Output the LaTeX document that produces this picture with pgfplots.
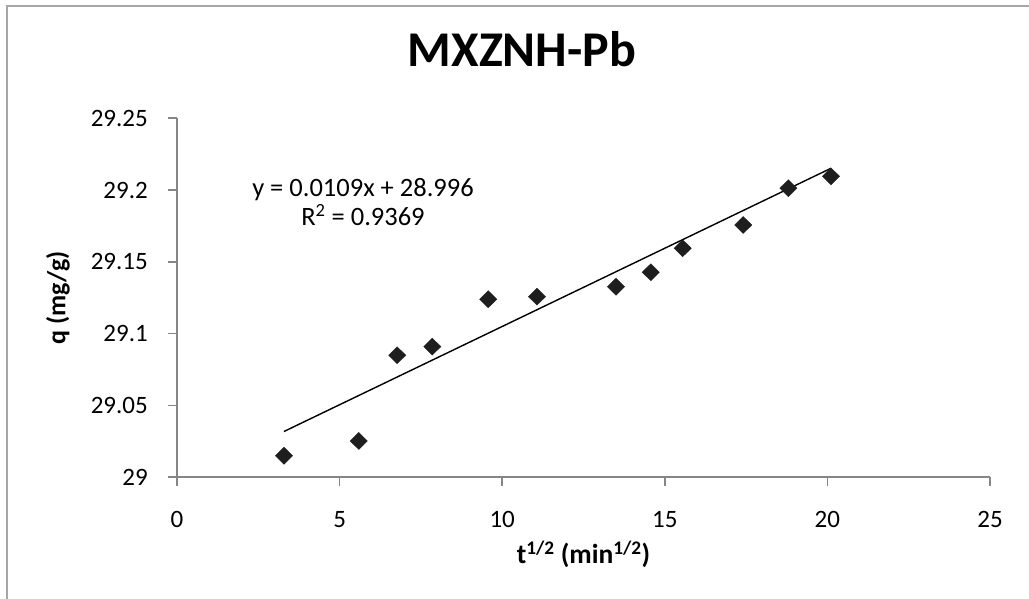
\documentclass[border=0pt]{standalone}
\usepackage{fontspec}
\setmainfont{Carlito}
\usepackage{pgfplots}
\pgfplotsset{compat=1.18}
\definecolor{axgray}{HTML}{868686}
\definecolor{frame}{HTML}{A6A6A6}
\definecolor{mk}{HTML}{1E1E1E}
\begin{document}
\begin{tikzpicture}
\useasboundingbox (-177pt,-121.7pt) rectangle (852pt,477.3pt);
\draw[frame, line width=2.5pt] (-170pt,-125pt) -- (-170pt,471.3pt) -- (860pt,471.3pt);
\begin{axis}[
  at={(0pt,0pt)}, anchor=south west,
  scale only axis, width=813pt, height=359pt,
  xmin=0, xmax=25, ymin=29, ymax=29.25,
  xtick={0,5,10,15,20,25},
  ytick={29,29.05,29.1,29.15,29.2,29.25},
  yticklabels={29,29.05,29.1,29.15,29.2,29.25},
  axis x line*=bottom, axis y line*=left,
  axis line style={axgray, line width=1.6pt},
  tick style={axgray, line width=1.6pt},
  tick align=outside, major tick length=9pt,
  /pgf/number format/assume math mode=true,
  ticklabel style={font=\fontsize{25}{30}\selectfont, text=black},
  xticklabel style={anchor=base, inner sep=0pt, yshift=-41pt},
  yticklabel style={anchor=east, inner sep=0pt, xshift=-20pt},
  xlabel={\textbf{t\textsuperscript{1/2} (min\textsuperscript{1/2})}},
  ylabel={\textbf{q (mg/g)}},
  xlabel style={font=\fontsize{27.5}{33}\selectfont, at={(axis description cs:0.5,0)}, anchor=base, inner sep=0pt, yshift=-86pt},
  ylabel style={font=\fontsize{26}{31}\selectfont, at={(axis description cs:-0.1464,0.5)}, anchor=center, inner sep=0pt},
  title={\textbf{MXZNH-Pb}},
  title style={font=\fontsize{50}{60}\selectfont, at={(axis description cs:0,0)}, anchor=base, inner sep=0pt, xshift=345pt, yshift=405pt},
  clip=false,
]
\addplot[only marks, mark=diamond*, mark size=8.5pt, mark options={xscale=1.35, fill=mk, draw=mk}] coordinates {
(3.29,29.0150) (5.59,29.0253) (6.77,29.0850) (7.85,29.0910) (9.57,29.1240) (11.07,29.1258)
(13.50,29.1327) (14.57,29.1428) (15.55,29.1595) (17.41,29.1757) (18.80,29.2013) (20.11,29.2096)
};
\addplot[black, line width=1.4pt] coordinates {(3.29,29.0319) (20.11,29.2152)};
\node[anchor=center, align=center, font=\fontsize{26.5}{29.5}\selectfont, inner sep=0pt] at (axis cs:5.72,29.1917) {y = 0.0109x + 28.996\\R\textsuperscript{2} = 0.9369};
\end{axis}
\end{tikzpicture}
\end{document}
